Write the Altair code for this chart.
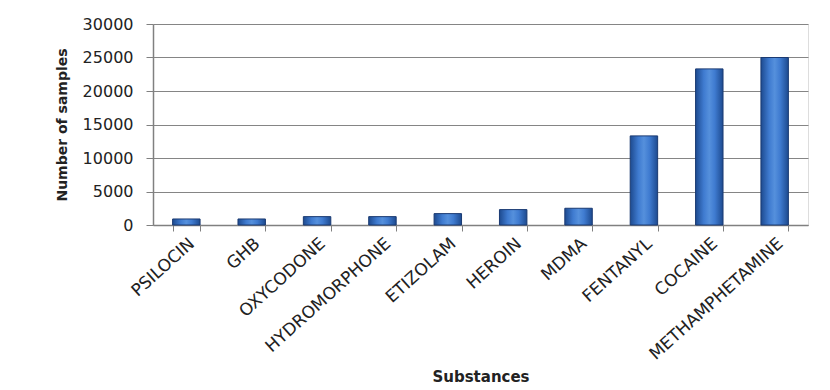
import altair as alt
import pandas as pd

substances = ["PSILOCIN", "GHB", "OXYCODONE", "HYDROMORPHONE", "ETIZOLAM",
              "HEROIN", "MDMA", "FENTANYL", "COCAINE", "METHAMPHETAMINE"]
samples = [900, 900, 1250, 1250, 1700, 2300, 2500, 13300, 23300, 25000]
y_ticks = [0, 5000, 10000, 15000, 20000, 25000, 30000]

df = pd.DataFrame({"Substance": substances, "Samples": samples})

grad = alt.LinearGradient(
    gradient="linear", x1=0, x2=1, y1=0, y2=0,
    stops=[
        alt.GradientStop(color="#1d4a8f", offset=0),
        alt.GradientStop(color="#3f7bd0", offset=0.3),
        alt.GradientStop(color="#5590dc", offset=0.5),
        alt.GradientStop(color="#3f7bd0", offset=0.7),
        alt.GradientStop(color="#1d4a8f", offset=1),
    ],
)

chart = alt.Chart(df).mark_bar(
    color=grad, stroke="#1a3a72", strokeWidth=1
).encode(
    x=alt.X("Substance:N", sort=substances,
            scale=alt.Scale(paddingInner=0.58, paddingOuter=0.3),
            axis=alt.Axis(title="Substances", labelAngle=318,
                          labelFont="DejaVu Sans", labelFontSize=17,
                          labelColor="#222222", labelPadding=4,
                          tickBand="extent", tickSize=6, tickColor="#808080",
                          domainColor="#808080", domainWidth=1.5,
                          titleFont="DejaVu Sans", titleFontSize=15,
                          titleFontWeight="bold", titleColor="#222222",
                          titleY=151, titleBaseline="middle")),
    y=alt.Y("Samples:Q", scale=alt.Scale(domain=[0, 30000]),
            axis=alt.Axis(title="Number of samples", values=y_ticks,
                          format="d",
                          labelFont="DejaVu Sans", labelFontSize=16,
                          labelColor="#222222", labelPadding=13,
                          tickSize=7, tickColor="#808080",
                          domainColor="#808080", domainWidth=1.5,
                          gridColor="#858585", gridWidth=1,
                          titleFont="DejaVu Sans", titleFontSize=14,
                          titleFontWeight="bold", titleColor="#222222",
                          titlePadding=13)),
).properties(
    width=655, height=201,
    padding={"left": 47, "top": 8, "right": 10, "bottom": 5},
).configure_view(stroke=None).configure(background="white")

chart.save("out.html", embed_options={"renderer": "svg", "actions": False})
